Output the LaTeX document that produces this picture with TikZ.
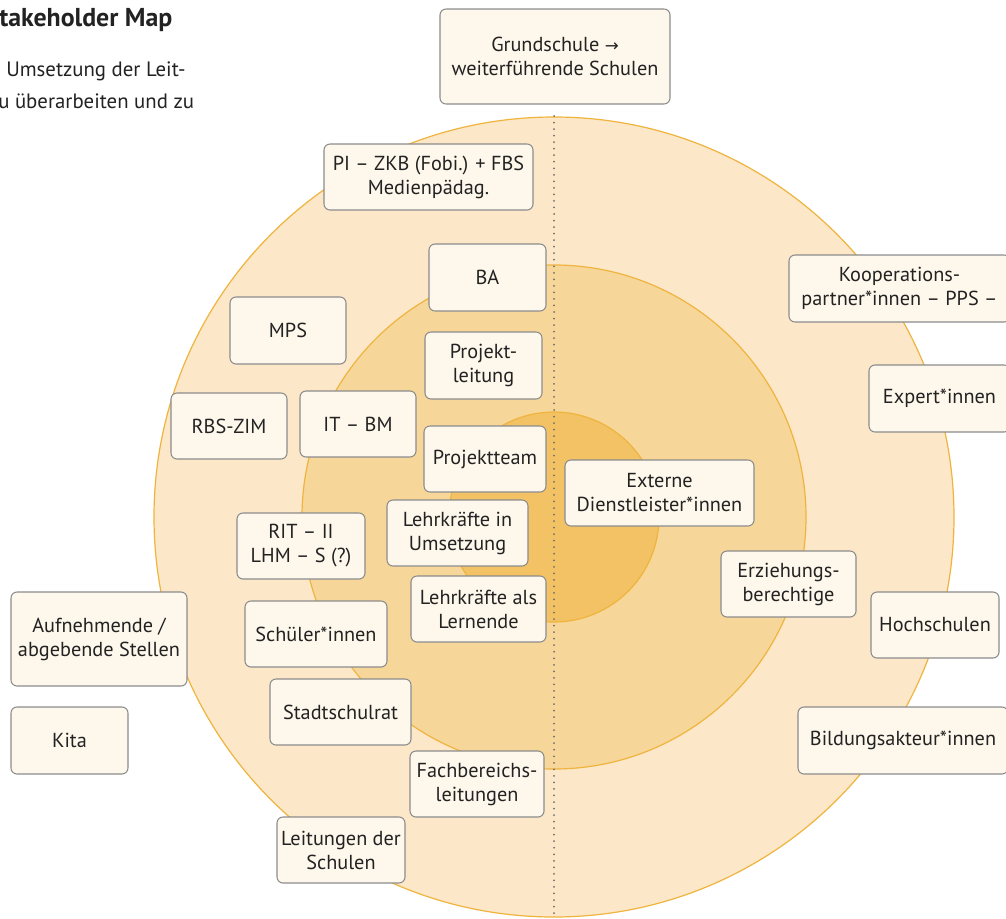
\documentclass[tikz,border=0pt]{standalone}
\usepackage{fontspec}
\setmainfont{PT Sans}
\newfontfamily\symfont{DejaVu Sans}
\definecolor{ringA}{HTML}{FCE7C8}
\definecolor{ringB}{HTML}{F7D69A}
\definecolor{ringC}{HTML}{F2C264}
\definecolor{ringline}{HTML}{EFB43E}
\definecolor{boxfill}{HTML}{FEF8EC}
\definecolor{boxline}{HTML}{8C8C8C}
\definecolor{txt}{HTML}{222222}
\definecolor{dotc}{HTML}{6E6E6E}
\tikzset{
  box/.style={draw=boxline, line width=0.8pt, fill=boxfill, rounded corners=4.5pt,
    align=center, inner sep=0pt, text=txt, font=\fontsize{15.2}{18}\selectfont},
  ring/.style={draw=ringline, line width=0.9pt},
  para/.style={anchor=west, inner sep=0pt, text=txt, font=\fontsize{15.6}{18}\selectfont},
  divider/.style={dotc, line width=1.5pt, line cap=round, dash pattern=on 0pt off 4.9pt}
}
\newcommand\bx[6]{\node[box, minimum width=#4*0.75pt, minimum height=#5*0.75pt] (#1) at (#2,#3) {#6};}
\begin{document}
\begin{tikzpicture}[x=0.75pt,y=-0.75pt]
\useasboundingbox (0,0) rectangle (1006,918);
\clip (0,0) rectangle (1006,918);
% rings
\fill[white] (0,0) rectangle (1006,918);
\draw[ring, fill=ringA] (554,517) circle[radius=300pt];
\draw[ring, fill=ringB] (554,517) circle[radius=189pt];
\draw[ring, fill=ringC] (554,517) circle[radius=78.75pt];
% divider
\coordinate (dtop) at (554,116);
\coordinate (dbot) at (554,918);
\draw[divider] (dtop) -- (dbot);
% paragraph (clipped at left edge)
\node[para, font=\fontsize{19.4}{22}\selectfont\bfseries] (title) at (-1,20) {takeholder Map};
\node[para] (p1) at (6,71) {Umsetzung der Leit-};
\node[para] (p2) at (-2,101) {u überarbeiten und zu};
% boxes
\bx{gs}{555}{56.5}{230}{95}{Grundschule {\symfont\fontsize{12.5}{18}\selectfont →}\\weiterführende Schulen}
\bx{pi}{428.5}{177}{209}{66}{PI – ZKB (Fobi.) + FBS\\Medienpädag.}
\bx{ba}{487.5}{277.5}{117}{67}{BA}
\bx{mps}{288}{330.5}{116}{67}{MPS}
\bx{pl}{483.5}{365.5}{117}{67}{Projekt-\\leitung}
\bx{rbs}{229}{426}{116}{66}{RBS-ZIM}
\bx{it}{358}{424}{116}{66}{IT – BM}
\bx{pt}{485}{459}{122}{66}{Projektteam}
\bx{ext}{659.5}{493}{189}{66}{Externe\\Dienstleister*innen}
\bx{rit}{301}{546}{128}{66}{RIT – II\\LHM – S (?)}
\bx{lu}{457.5}{533}{141}{66}{Lehrkräfte in\\Umsetzung}
\bx{ll}{478.5}{609}{135}{66}{Lehrkräfte als\\Lernende}
\bx{erz}{788.5}{584}{135}{66}{Erziehungs-\\berechtige}
\bx{auf}{99}{639}{176}{94}{Aufnehmende /\\abgebende Stellen}
\bx{sch}{316}{634}{142}{66}{Schüler*innen}
\bx{hoch}{935}{625}{128}{66}{Hochschulen}
\bx{kita}{69.5}{740.5}{117}{67}{Kita}
\bx{ssr}{340.5}{712}{141}{66}{Stadtschulrat}
\bx{bild}{903}{740.5}{210}{67}{Bildungsakteur*innen}
\bx{fb}{477}{784}{134}{66}{Fachbereichs-\\leitungen}
\bx{lds}{341}{850}{128}{66}{Leitungen der\\Schulen}
\bx{koop}{899.5}{288.5}{221}{67}{Kooperations-\\partner*innen – PPS –}
\bx{exp}{939.5}{398.5}{141}{67}{Expert*innen}
\end{tikzpicture}
\end{document}
